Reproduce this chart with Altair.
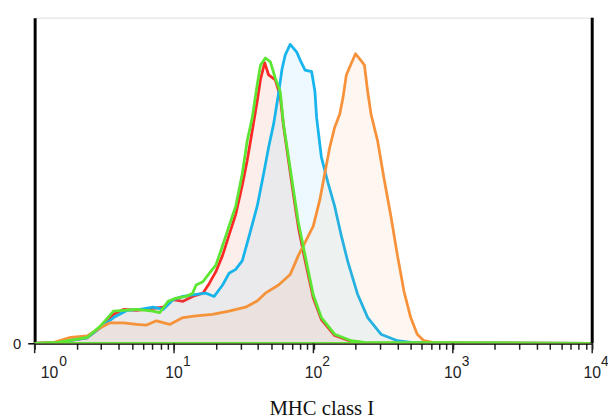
import altair as alt
import pandas as pd

# ---- data ----
red_x = [1.0, 1.46, 2.02, 2.38, 2.96, 3.68, 4.34, 5.39, 7.08, 8.35, 9.83, 11.6, 13.6, 16.1, 17.9,
         19.95, 22.3, 24.8, 27.7, 30.9, 33.5, 36.4, 39.5, 41.7, 44.7, 47.7, 53.3, 57.8, 61.0, 66.2,
         71.9, 78.0, 87.1, 99.7, 114, 142, 187, 232, 10000]
red_y = [0, 0.3, 1.2, 1.7, 4.8, 8.9, 10.4, 10.1, 10.7, 11.1, 13.4, 12.9, 14.4, 15.4, 18.4,
         22.0, 27.0, 33.2, 39.6, 48.6, 56.2, 65.3, 74.3, 81.0, 86.2, 82.4, 80.9, 75.8, 66.8, 56.2,
         45.6, 35.6, 25.4, 13.9, 7.3, 2.4, 0.6, 0.15, 0]

green_x = [1.0, 1.46, 2.02, 2.38, 2.96, 3.68, 4.34, 5.39, 7.08, 7.89, 9.06, 10.4, 12.2, 13.6, 14.4,
           16.1, 17.9, 19.95, 22.3, 24.8, 27.7, 30.9, 33.5, 36.4, 39.5, 41.7, 45.2, 49.1, 53.3, 57.8,
           61.0, 66.2, 71.9, 78.0, 87.1, 99.7, 114, 142, 187, 232, 10000]
green_y = [0, 0.3, 1.3, 1.8, 5.3, 9.9, 10.1, 10.4, 9.9, 9.4, 12.9, 13.9, 14.4, 15.4, 17.9,
           18.9, 21.5, 24.0, 30.0, 36.0, 42.1, 52.2, 62.2, 69.3, 79.4, 85.4, 87.6, 86.4, 81.4, 77.3,
           67.3, 57.2, 47.1, 37.1, 27.0, 14.9, 7.9, 2.8, 0.8, 0.3, 0]

blue_x = [1.0, 1.46, 2.02, 2.38, 2.96, 3.30, 3.68, 4.58, 5.69, 7.08, 8.35, 9.83, 11.6, 13.6, 16.9,
          19.4, 22.3, 24.8, 27.7, 30.9, 34.4, 39.5, 44.0, 47.7, 51.8, 56.2, 59.4, 62.7, 68.1, 75.9,
          81.5, 87.1, 97.1, 102.5, 105.4, 114, 127.4, 142, 158.6, 176.7, 208.1, 245.1, 305.1, 400.5,
          498.6, 730, 10000]
blue_y = [0, 0.3, 1.2, 1.7, 4.8, 6.3, 7.9, 10.1, 10.4, 11.1, 10.4, 13.4, 14.4, 14.9, 15.4,
          14.4, 17.9, 21.5, 22.7, 25.4, 32.6, 42.1, 52.2, 60.2, 67.3, 76.7, 84.0, 88.5, 91.8, 89.4,
          86.4, 83.9, 83.4, 77.3, 69.3, 57.2, 49.2, 42.1, 33.0, 25.0, 14.9, 7.9, 2.8, 0.8,
          0.3, 0.15, 0]

orange_x = [1.0, 1.38, 1.81, 2.38, 2.96, 3.48, 4.34, 5.39, 6.35, 7.48, 9.30, 11.6, 14.4, 18.9, 24.8,
            32.6, 39.5, 45.2, 56.2, 68.1, 78.0, 87.1, 99.7, 111.2, 120.7, 131.0, 142, 154.3, 162.8,
            172.2, 186.8, 200.4, 214.0, 232.2, 245.1, 259.1, 288.6, 322.1, 359.4, 400.5, 446.7,
            498.6, 555.4, 619.5, 730, 1012, 10000]
orange_y = [0, 0.3, 1.8, 2.3, 4.8, 6.3, 6.3, 5.8, 5.6, 6.9, 5.8, 7.9, 8.4, 8.9, 9.9,
            11.1, 13.0, 15.4, 17.9, 21.1, 27.0, 31.0, 36.0, 44.1, 52.2, 60.2, 66.3, 70.3, 75.3,
            82.4, 85.9, 88.9, 87.4, 85.4, 77.3, 70.3, 62.2, 50.2, 39.1, 27.0, 15.9,
            7.9, 2.8, 0.8, 0.2, 0.15, 0]

decades = [1, 10, 100, 1000, 10000]
exponents = ["0", "1", "2", "3", "4"]
minor_ticks = [1, 2, 3, 4, 5, 6, 7, 8, 9,
               10, 20, 30, 40, 50, 60, 70, 80, 90,
               100, 200, 300, 400, 500, 600, 700, 800, 900,
               1000, 2000, 3000, 4000, 5000, 6000, 7000, 8000, 9000, 10000]
y_ticks = [0]
x_title = "MHC class I"

# ---- layout ----
W, H = 565, 330
x_scale = alt.Scale(type="log", domain=[1, 10000], nice=False)
y_scale = alt.Scale(domain=[0, 100], nice=False)

x_axis = alt.Axis(values=minor_ticks, labels=False, tickSize=6, tickColor="#222", tickWidth=1.5,
                  domainColor="black", domainWidth=2, grid=False, title=None)
y_axis = alt.Axis(values=y_ticks, tickSize=7, tickColor="black", tickWidth=1.5,
                  domainColor="black", domainWidth=3, labelFontSize=15, labelColor="#222",
                  labelPadding=7, labelFont="Liberation Sans", grid=False, title=None)


def series(xs, ys, color, fill_op):
    df = pd.DataFrame({"mhc": xs, "count": ys})
    return alt.Chart(df).mark_area(
        fill=color, fillOpacity=fill_op, stroke=color, strokeWidth=2.8,
        strokeJoin="round", clip=True
    ).encode(
        x=alt.X("mhc:Q", scale=x_scale, axis=x_axis),
        y=alt.Y("count:Q", scale=y_scale, axis=y_axis),
    )


red = series(red_x, red_y, "#ff2626", 0.08)
blue = series(blue_x, blue_y, "#18b4ee", 0.08)
orange = series(orange_x, orange_y, "#f7923a", 0.07)
green = series(green_x, green_y, "#5ce633", 0.015)

dec_df = pd.DataFrame({"v": decades, "e": exponents})

major = alt.Chart(dec_df).mark_rule(color="#222", strokeWidth=1.5).encode(
    x=alt.X("v:Q", scale=x_scale, axis=x_axis),
    y=alt.value(H), y2=alt.value(H + 10),
)

lab_font = "Liberation Sans"
base_first = alt.Chart(dec_df.iloc[:1]).mark_text(
    text="10", font=lab_font, fontSize=16, color="#222", align="center", baseline="alphabetic", dx=15
).encode(x=alt.X("v:Q", scale=x_scale, axis=x_axis), y=alt.value(H + 35))
base_rest = alt.Chart(dec_df.iloc[1:]).mark_text(
    text="10", font=lab_font, fontSize=16, color="#222", align="center", baseline="alphabetic", dx=0
).encode(x=alt.X("v:Q", scale=x_scale, axis=x_axis), y=alt.value(H + 35))
exp_first = alt.Chart(dec_df.iloc[:1]).mark_text(
    font=lab_font, fontSize=14, color="#222", align="left", baseline="alphabetic", dx=25
).encode(x=alt.X("v:Q", scale=x_scale, axis=x_axis), y=alt.value(H + 23), text="e:N")
exp_rest = alt.Chart(dec_df.iloc[1:]).mark_text(
    font=lab_font, fontSize=14, color="#222", align="left", baseline="alphabetic", dx=9
).encode(x=alt.X("v:Q", scale=x_scale, axis=x_axis), y=alt.value(H + 23), text="e:N")

right_frame = alt.Chart(dec_df.iloc[:1]).mark_rule(color="black", strokeWidth=3).encode(
    x=alt.value(W), y=alt.value(0), y2=alt.value(H)
)

title = alt.Chart(dec_df.iloc[:1]).mark_text(
    text=x_title, font="Liberation Serif", fontSize=21, color="#111",
    align="center", baseline="alphabetic"
).encode(x=alt.value(291), y=alt.value(H + 73))

chart = alt.layer(
    red, blue, orange, green, major, base_first, base_rest, exp_first, exp_rest, right_frame, title
).properties(
    width=W, height=H,
    padding={"left": 27, "top": 7, "right": 16, "bottom": 80},
    autosize=alt.AutoSizeParams(type="none"),
).configure_view(
    stroke="#888", strokeWidth=1.5
).configure(background="white")

chart.save("out.html", embed_options={"renderer": "svg", "actions": False})
